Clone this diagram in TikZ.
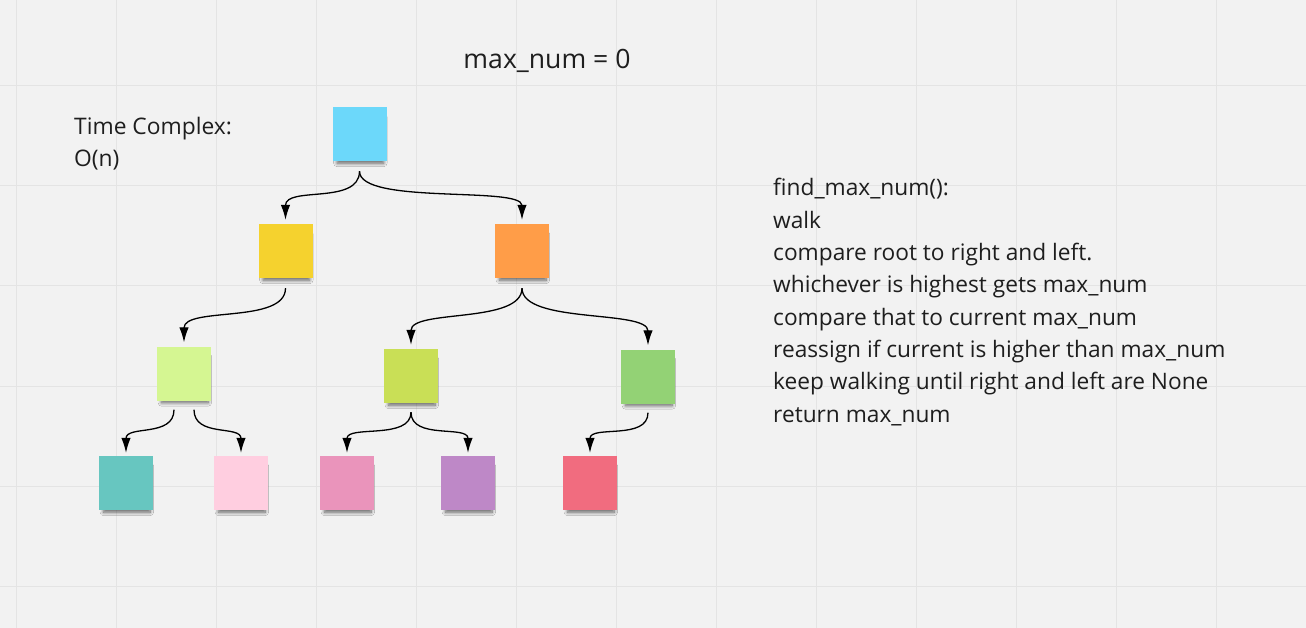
\documentclass[tikz,border=0pt]{standalone}
\usepackage{fontspec}
\setmainfont{Open Sans}
\usepackage{xcolor}
\usepackage{tikz}
\usetikzlibrary{arrows.meta,positioning,shadows.blur}
\definecolor{board}{HTML}{F2F2F2}
\definecolor{gridgray}{HTML}{E4E4E4}
\definecolor{ink}{HTML}{1E1E1E}
\definecolor{cyannote}{HTML}{6CD8FA}
\definecolor{yelnote}{HTML}{F5D22E}
\definecolor{orgnote}{HTML}{FF9D48}
\definecolor{limenote}{HTML}{D5F692}
\definecolor{olivenote}{HTML}{C9DF56}
\definecolor{grnnote}{HTML}{93D275}
\definecolor{tealnote}{HTML}{67C6C0}
\definecolor{blushnote}{HTML}{FFCEE0}
\definecolor{pinknote}{HTML}{EA94BB}
\definecolor{purnote}{HTML}{BE88C7}
\definecolor{rednote}{HTML}{F16C7F}

\begin{document}
\begin{tikzpicture}[
  x=1pt, y=-1pt,
  note/.style={minimum size=54pt, inner sep=0pt,
               blur shadow={shadow xshift=1pt, shadow yshift=-7pt,
                            shadow scale=0.86, shadow opacity=60,
                            shadow blur radius=4pt, shadow blur steps=10}},
  txt/.style={text=ink, align=left, inner sep=0pt},
  ar/.style={-{Latex[length=15pt,width=9.5pt]}, line width=1.3pt, draw=black}
]
\useasboundingbox[fill=board] (0,0) rectangle (1306,628);
\foreach \gx in {16,116,...,1216}
  \draw[gridgray, line width=1pt] (\gx,0) -- (\gx,628);
\foreach \gy in {86,186,...,586}
  \draw[gridgray, line width=1pt] (0,\gy) -- (1306,\gy);

% texts: base anchor sits on the last line
\node[txt, anchor=base, font=\fontsize{26.6}{32}\selectfont] (title) at (547,69) {max\_num = 0};
\node[txt, anchor=base west, font=\fontsize{22.8}{32}\selectfont] (tc) at (74,167) {Time Complex:\\O(n)};
\node[txt, anchor=base west, font=\fontsize{22.7}{32.3}\selectfont] (algo) at (773,422)
  {find\_max\_num():\\walk\\compare root to right and left.\\whichever is highest gets max\_num\\
   compare that to current max\_num\\reassign if current is higher than max\_num\\
   keep walking until right and left are None\\return max\_num};

\node[note, fill=cyannote] (root) at (359.5,134) {};
\node[note, fill=yelnote] (yel) at (285.5,251) {};
\node[note, fill=orgnote] (org) at (522,251) {};
\node[note, fill=limenote] (lime) at (184,373.5) {};
\node[note, fill=olivenote] (olive) at (411,376) {};
\node[note, fill=grnnote] (grn) at (648,376.5) {};
\node[note, fill=tealnote] (teal) at (126,483) {};
\node[note, fill=blushnote] (blush) at (241,483) {};
\node[note, fill=pinknote] (pink) at (347,483) {};
\node[note, fill=purnote] (pur) at (468,483) {};
\node[note, fill=rednote] (red) at (590,483) {};

\draw[ar] ([yshift=-10pt]root.south) .. controls +(0,34) and +(0,-34) .. ([yshift=4pt]yel.north);
\draw[ar] ([yshift=-10pt]root.south) .. controls +(0,34) and +(0,-34) .. ([yshift=4pt]org.north);
\draw[ar] ([yshift=-10pt]yel.south) .. controls +(0,36) and +(0,-36) .. ([yshift=4pt]lime.north);
\draw[ar] ([yshift=-10pt]org.south) .. controls +(0,36) and +(0,-36) .. ([yshift=4pt]olive.north);
\draw[ar] ([yshift=-10pt]org.south) .. controls +(0,36) and +(0,-36) .. ([yshift=4pt]grn.north);
\draw[ar] ([xshift=-10pt,yshift=-9pt]lime.south) .. controls +(0,28) and +(0,-28) .. ([yshift=3pt]teal.north);
\draw[ar] ([xshift=10pt,yshift=-9pt]lime.south) .. controls +(0,28) and +(0,-28) .. ([yshift=3pt]blush.north);
\draw[ar] ([yshift=-9pt]olive.south) .. controls +(0,28) and +(0,-28) .. ([yshift=3pt]pink.north);
\draw[ar] ([yshift=-9pt]olive.south) .. controls +(0,28) and +(0,-28) .. ([yshift=3pt]pur.north);
\draw[ar] ([yshift=-9pt]grn.south) .. controls +(0,28) and +(0,-28) .. ([yshift=3pt]red.north);
\end{tikzpicture}
\end{document}
